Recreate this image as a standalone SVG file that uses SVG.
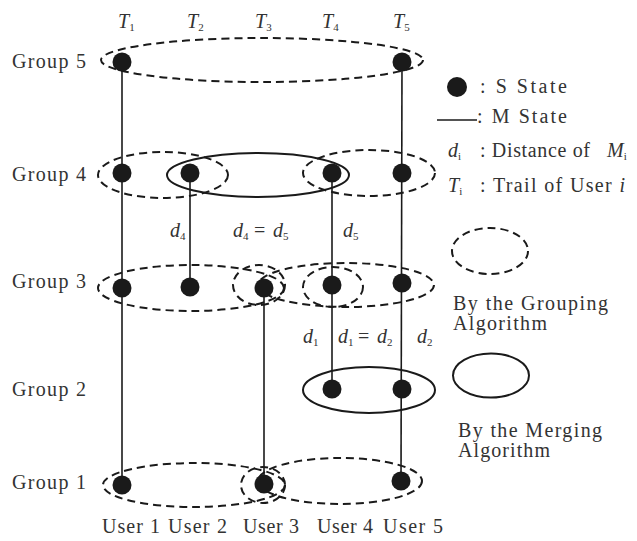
<svg xmlns="http://www.w3.org/2000/svg" width="637" height="541" viewBox="0 0 637 541">
<style>
text{font-family:"Liberation Serif","Times New Roman",serif;font-size:20px;fill:#333;}
.it{font-style:italic;}
.sub{font-size:11px;}
.dash{fill:none;stroke:#1a1a1a;stroke-width:2;stroke-dasharray:8 5;}
.solid{fill:none;stroke:#1a1a1a;stroke-width:2;}
.dot{fill:#1a1a1a;}
.trail{stroke:#1a1a1a;stroke-width:1.6;fill:none;}
</style>
<rect width="637" height="541" fill="#fff"/>

<g id="connectors">
<line class="trail" x1="122" y1="62" x2="122" y2="485"/>
<line class="trail" x1="402" y1="62" x2="401" y2="481"/>
<line class="trail" x1="190" y1="173" x2="190" y2="287"/>
<line class="trail" x1="332" y1="173" x2="332" y2="389"/>
<line class="trail" x1="264" y1="288" x2="264" y2="484"/>
</g>

<g id="top-labels">
<text x="118" y="28"><tspan class="it">T</tspan><tspan class="sub" dy="3">1</tspan></text>
<text x="187" y="28"><tspan class="it">T</tspan><tspan class="sub" dy="3">2</tspan></text>
<text x="255" y="28"><tspan class="it">T</tspan><tspan class="sub" dy="3">3</tspan></text>
<text x="322" y="28"><tspan class="it">T</tspan><tspan class="sub" dy="3">4</tspan></text>
<text x="393" y="28"><tspan class="it">T</tspan><tspan class="sub" dy="3">5</tspan></text>
</g>

<g id="group5">
<text x="12" y="68" textLength="74">Group 5</text>
<ellipse class="dash" cx="262" cy="60" rx="161" ry="22"/>
<circle class="dot" cx="122" cy="62" r="9.5"/>
<circle class="dot" cx="402" cy="62" r="9.5"/>
</g>

<g id="group4">
<text x="12" y="181" textLength="74">Group 4</text>
<ellipse class="dash" cx="163" cy="175" rx="65" ry="23"/>
<ellipse class="solid" cx="258" cy="175" rx="91" ry="22"/>
<ellipse class="dash" cx="369" cy="173" rx="66" ry="23"/>
<circle class="dot" cx="122" cy="173" r="9.5"/>
<circle class="dot" cx="190" cy="173" r="9.5"/>
<circle class="dot" cx="332" cy="173" r="9.5"/>
<circle class="dot" cx="402" cy="173" r="9.5"/>
</g>

<g id="distance-labels-upper">
<text x="170" y="237"><tspan class="it">d</tspan><tspan class="sub" dy="3">4</tspan></text>
<text x="233" y="237"><tspan class="it">d</tspan><tspan class="sub" dy="3">4</tspan></text>
<text x="254" y="237">=</text>
<text x="273" y="237"><tspan class="it">d</tspan><tspan class="sub" dy="3">5</tspan></text>
<text x="343" y="237"><tspan class="it">d</tspan><tspan class="sub" dy="3">5</tspan></text>
</g>

<g id="group3">
<text x="12" y="288" textLength="74">Group 3</text>
<ellipse class="dash" cx="191" cy="288" rx="93" ry="23"/>
<ellipse class="dash" cx="259" cy="285" rx="26" ry="20"/>
<ellipse class="dash" cx="333" cy="287" rx="30" ry="20"/>
<ellipse class="dash" cx="346" cy="285" rx="88" ry="22"/>
<circle class="dot" cx="122" cy="288" r="9.5"/>
<circle class="dot" cx="190" cy="287" r="9.5"/>
<circle class="dot" cx="264" cy="288" r="9.5"/>
<circle class="dot" cx="332" cy="285" r="9.5"/>
<circle class="dot" cx="402" cy="283" r="9.5"/>
</g>

<g id="distance-labels-lower">
<text x="303" y="343"><tspan class="it">d</tspan><tspan class="sub" dy="3">1</tspan></text>
<text x="338" y="343"><tspan class="it">d</tspan><tspan class="sub" dy="3">1</tspan></text>
<text x="358" y="343">=</text>
<text x="377" y="343"><tspan class="it">d</tspan><tspan class="sub" dy="3">2</tspan></text>
<text x="417" y="343"><tspan class="it">d</tspan><tspan class="sub" dy="3">2</tspan></text>
</g>

<g id="group2">
<text x="12" y="396" textLength="74">Group 2</text>
<ellipse class="solid" cx="369" cy="390" rx="66" ry="23"/>
<circle class="dot" cx="332" cy="389" r="9.5"/>
<circle class="dot" cx="402" cy="389" r="9.5"/>
</g>

<g id="group1">
<text x="12" y="489" textLength="74">Group 1</text>
<ellipse class="dash" cx="194" cy="485" rx="91" ry="22"/>
<ellipse class="dash" cx="263" cy="485" rx="22" ry="18"/>
<ellipse class="dash" cx="340" cy="481" rx="82" ry="23"/>
<circle class="dot" cx="122" cy="485" r="9.5"/>
<circle class="dot" cx="264" cy="484" r="9.5"/>
<circle class="dot" cx="401" cy="481" r="9.5"/>
</g>

<g id="user-labels">
<text x="102" y="533" textLength="58">User 1</text>
<text x="168" y="533" textLength="59">User 2</text>
<text x="243" y="533" textLength="56">User 3</text>
<text x="317" y="533" textLength="56">User 4</text>
<text x="383" y="533" textLength="60">User 5</text>
</g>

<g id="legend">
<circle class="dot" cx="457" cy="87" r="10"/>
<text x="480" y="93" textLength="87">: S  State</text>
<line class="trail" x1="437" y1="120" x2="477" y2="120"/>
<text x="477" y="123" textLength="90">: M State</text>
<text x="448" y="157"><tspan class="it">d</tspan><tspan class="sub" dy="3">i</tspan></text>
<text x="480" y="157" textLength="110">: Distance of</text>
<text x="607" y="157"><tspan class="it">M</tspan><tspan class="sub" dy="3">i</tspan></text>
<text x="448" y="192"><tspan class="it">T</tspan><tspan class="sub" dy="3">i</tspan></text>
<text x="480" y="192" textLength="145">: Trail of User <tspan class="it">i</tspan></text>
<ellipse class="dash" cx="490" cy="251" rx="38" ry="23"/>
<text x="453" y="310" textLength="155">By the Grouping</text>
<text x="453" y="330" textLength="94">Algorithm</text>
<ellipse class="solid" cx="491" cy="375.5" rx="38" ry="22"/>
<text x="458" y="437" textLength="144">By the Merging</text>
<text x="458" y="457" textLength="92">Algorithm</text>
</g>
</svg>
